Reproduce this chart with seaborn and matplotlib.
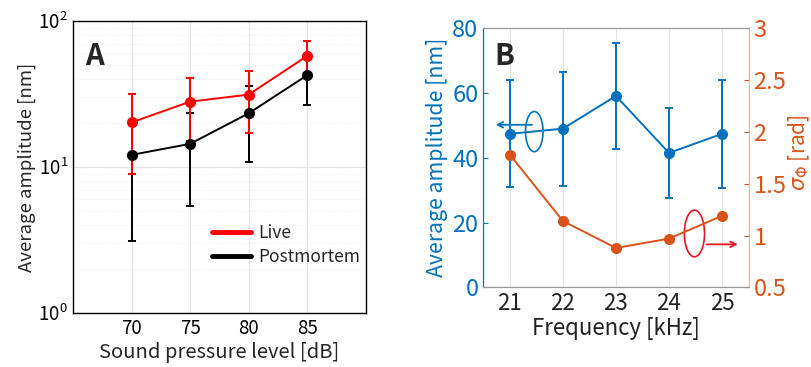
import numpy as np
import pandas as pd
import matplotlib
matplotlib.use("Agg")
import matplotlib.pyplot as plt
from matplotlib.patches import Ellipse
import seaborn as sns

# Panel A data
spl = [70, 75, 80, 85]
live_mean = [20.2, 28.0, 31.3, 57.6]
live_sd = [11.3, 12.9, 14.1, 15.7]
post_mean = [12.1, 14.4, 23.3, 42.5]
post_sd = [9.0, 9.0, 12.4, 16.0]

# Panel B data
freq = [21, 22, 23, 24, 25]
amp_mean = [47.4, 49.0, 59.1, 41.5, 47.4]
amp_sd = [16.5, 17.6, 16.3, 14.0, 16.7]
sigma_phi = [1.78, 1.14, 0.88, 0.97, 1.19]

sns.set_style("white")
plt.rcParams['font.family'] = ['Noto Sans CJK JP', 'DejaVu Sans']

blue = "#0072BD"
orange = "#D95319"
red = "#E8141E"

fig = plt.figure(figsize=(8.11, 3.67), dpi=100)
axA = fig.add_axes([0.090, 0.147, 0.361, 0.796])
axB = fig.add_axes([0.596, 0.217, 0.327, 0.706])

# ---- Panel A ----
dfA = pd.DataFrame({
    "spl": spl * 2,
    "amp": live_mean + post_mean,
    "group": ["Live"] * 4 + ["Postmortem"] * 4,
})
axA.set_yscale("log")
axA.errorbar(spl, post_mean, yerr=post_sd, fmt="none", ecolor="black",
             elinewidth=1.4, capsize=3, capthick=1.4, zorder=2)
axA.errorbar(spl, live_mean, yerr=live_sd, fmt="none", ecolor="red",
             elinewidth=1.4, capsize=3, capthick=1.4, zorder=3)
sns.lineplot(data=dfA, x="spl", y="amp", hue="group",
             palette={"Live": "red", "Postmortem": "black"},
             marker="o", markersize=8, markeredgewidth=0, linewidth=1.4,
             ax=axA, legend=False, zorder=4)
axA.set_xlim(65, 90)
axA.set_ylim(1, 100)
axA.set_xticks(spl)
axA.grid(True, which="major", color="#e4e4e4", linewidth=0.8)
axA.grid(True, which="minor", axis="y", color="#eeeeee", linewidth=0.6, linestyle=":")
axA.tick_params(which="both", direction="in", labelsize=13.5, colors="black")
for s in axA.spines.values():
    s.set_color("black")
    s.set_linewidth(1.0)
axA.set_xlabel("Sound pressure level [dB]", fontsize=14.5, labelpad=2)
axA.set_ylabel("Average amplitude [nm]", fontsize=13.4, labelpad=2)
axA.plot([], [], color="red", linewidth=3.5, label="Live")
axA.plot([], [], color="black", linewidth=3.5, label="Postmortem")
axA.legend(loc="upper left", bbox_to_anchor=(0.474, 0.305), frameon=False,
           fontsize=12.5, handlelength=2.25, handletextpad=0.4,
           labelspacing=0.35, borderpad=0, borderaxespad=0)
axA.text(0.04, 0.93, "A", transform=axA.transAxes, fontsize=21,
         fontweight="bold", va="top", ha="left")

# ---- Panel B ----
dfB = pd.DataFrame({"freq": freq, "amp": amp_mean, "sigma": sigma_phi})
axB.errorbar(freq, amp_mean, yerr=amp_sd, fmt="none", ecolor=blue,
             elinewidth=1.4, capsize=3, capthick=1.4, zorder=2)
sns.lineplot(data=dfB, x="freq", y="amp", color=blue, marker="o",
             markersize=8, markeredgewidth=0, linewidth=1.4, ax=axB, zorder=3)
axB.set_xlim(20.5, 25.5)
axB.set_ylim(0, 80)
axB.set_xticks(freq)
axB.set_yticks([0, 20, 40, 60, 80])
axB.grid(True, axis="x", color="#e4e4e4", linewidth=0.8)
axB.tick_params(axis="x", direction="in", labelsize=16, colors="#222222")
axB.tick_params(axis="y", direction="in", labelsize=17, colors=blue)
axB.set_xlabel("Frequency [kHz]", fontsize=16, color="#222222", labelpad=1)
axB.set_ylabel("Average amplitude [nm]", fontsize=15.3, color=blue, labelpad=3)
axB.text(0.04, 0.95, "B", transform=axB.transAxes, fontsize=21,
         fontweight="bold", va="top", ha="left")

axR = axB.twinx()
sns.lineplot(data=dfB, x="freq", y="sigma", color=orange, marker="o",
             markersize=8, markeredgewidth=0, linewidth=1.4, ax=axR)
axR.set_ylim(0.5, 3)
axR.set_yticks([0.5, 1, 1.5, 2, 2.5, 3])
axR.set_yticklabels(["0.5", "1", "1.5", "2", "2.5", "3"])
axR.tick_params(axis="y", direction="in", labelsize=17, colors=orange)
axR.set_ylabel(r"$\sigma_{\Phi}$ [rad]", fontsize=15, color=orange)
axR.yaxis.set_label_coords(1.145, 0.52)

for ax in (axB, axR):
    ax.spines["top"].set_color("#999999")
    ax.spines["bottom"].set_color("#999999")
    ax.spines["left"].set_color(blue)
    ax.spines["right"].set_color("#d9b8a8")

# annotations: ellipses + arrows pointing to the axes
axB.add_patch(Ellipse((21.46, 48.1), 0.33, 12.4, fill=False, edgecolor=blue, linewidth=1.2))
axB.annotate("", xy=(20.68, 50.2), xytext=(21.47, 50.2),
             arrowprops=dict(arrowstyle="->", color=blue, linewidth=1.3))
axR.add_patch(Ellipse((24.48, 1.02), 0.38, 0.45, fill=False, edgecolor=red, linewidth=1.2))
axR.annotate("", xy=(25.35, 0.915), xytext=(24.66, 0.915),
             arrowprops=dict(arrowstyle="->", color=red, linewidth=1.3))

fig.savefig("out.png", dpi=100)
